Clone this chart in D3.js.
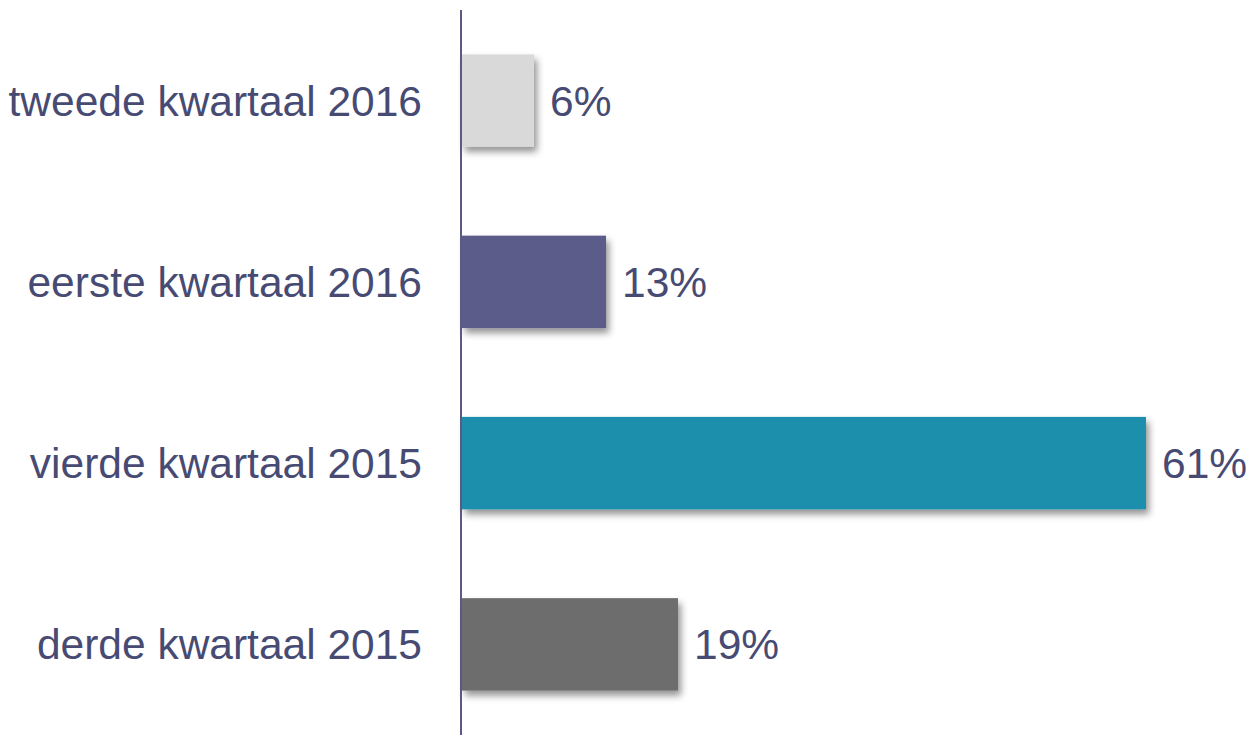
<!DOCTYPE html>
<html>
<head>
<meta charset="utf-8">
<script src="https://cdn.jsdelivr.net/npm/d3@7"></script>
<style>
  html, body { margin: 0; padding: 0; background: #ffffff; }
  svg { display: block; }
</style>
</head>
<body>
<svg id="chart" width="1248" height="735"></svg>
<script>
// Quarters, listed bottom to top in the chart
const categories = ["derde kwartaal 2015", "vierde kwartaal 2015", "eerste kwartaal 2016", "tweede kwartaal 2016"];
// Share per quarter (percent)
const values = [19.2, 60.8, 12.8, 6.4];
const colors = ["#6d6d6d", "#1f8fad", "#5b5b8b", "#d9d9d9"];

const svg = d3.select("#chart");
const textColor = "#474b73";
const font = "'Liberation Sans', Arial, sans-serif";

const axisX = 461;
const x = d3.scaleLinear().domain([0, 70]).range([axisX + 1, axisX + 1 + 787.5]);
const y = d3.scaleBand()
  .domain(categories.slice().reverse())
  .range([10, 735])
  .paddingInner(0.49)
  .paddingOuter(0.245);

// soft drop shadow under each bar
const defs = svg.append("defs");
const f = defs.append("filter").attr("id", "shadow")
  .attr("x", "-10%").attr("y", "-20%").attr("width", "130%").attr("height", "150%");
f.append("feDropShadow")
  .attr("dx", 3).attr("dy", 5).attr("stdDeviation", 3.5)
  .attr("flood-color", "#000").attr("flood-opacity", 0.42);

const data = categories.map((c, i) => ({ cat: c, value: values[i], color: colors[i] }));

svg.append("g").selectAll("rect")
  .data(data)
  .join("rect")
  .attr("x", x(0))
  .attr("y", d => y(d.cat))
  .attr("width", d => x(d.value) - x(0))
  .attr("height", y.bandwidth())
  .attr("fill", d => d.color)
  .attr("filter", "url(#shadow)");

// value labels
const fmt = v => d3.format(".0f")(v) + "%";
svg.append("g").selectAll("text")
  .data(data)
  .join("text")
  .attr("x", d => x(d.value) + 16)
  .attr("y", d => y(d.cat) + y.bandwidth() / 2)
  .attr("dy", "0.35em")
  .attr("fill", textColor)
  .style("font-family", font)
  .style("font-size", "42.5px")
  .text(d => fmt(d.value));

// category axis
const axis = svg.append("g")
  .attr("transform", `translate(${axisX},0)`)
  .call(d3.axisLeft(y).tickSize(0).tickSizeOuter(0).tickPadding(39));
axis.select(".domain").attr("stroke", "#5a5a85").attr("stroke-width", 2)
  .attr("d", `M0,10V735`);
axis.selectAll("text")
  .attr("fill", textColor)
  .attr("dy", "0.35em")
  .style("font-family", font)
  .style("font-size", "42.5px");
</script>
</body>
</html>
